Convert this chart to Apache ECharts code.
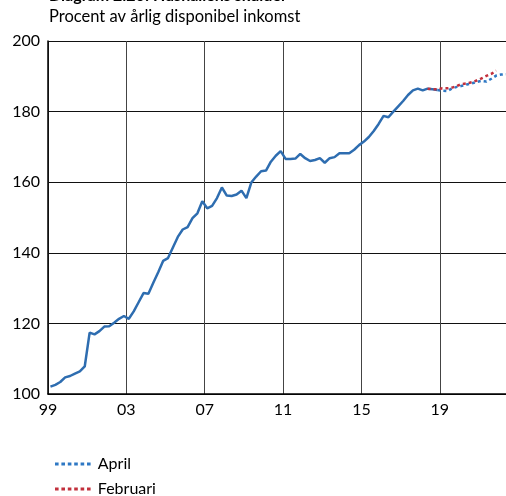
<!DOCTYPE html>
<html>
<head>
<meta charset="utf-8">
<script src="https://cdn.jsdelivr.net/npm/echarts@6/dist/echarts.min.js"></script>
<style>
  html, body { margin: 0; padding: 0; background: #fff; }
  #chart { width: 506px; height: 496px; }
</style>
</head>
<body>
<div id="chart"></div>
<script>
// kvartal från 1999 K1, index 0 = 1999 K1
var startYear = 1999;

// hushållens skulder, utfall (1999 K1 - 2018 K4)
var utfall = [
  102.1, 102.6, 103.4, 104.7, 105.1, 105.8, 106.4, 107.8,
  117.4, 116.9, 117.8, 119.1, 119.2, 120.2, 121.3, 122.1,
  121.3, 123.4, 126.0, 128.6, 128.4, 131.5, 134.5, 137.7,
  138.5, 141.5, 144.5, 146.6, 147.3, 149.8, 151.2, 154.6,
  152.6, 153.3, 155.5, 158.5, 156.2, 156.1, 156.5, 157.6,
  155.5, 159.9, 161.6, 163.1, 163.3, 165.8, 167.5, 168.8,
  166.6, 166.6, 166.7, 168.0, 166.8, 166.0, 166.3, 166.8,
  165.5, 166.8, 167.1, 168.2, 168.2, 168.2, 169.2, 170.5,
  171.5, 172.8, 174.5, 176.5, 178.8, 178.4, 180.0, 181.5,
  183.0, 184.7, 186.0, 186.5, 186.0, 186.5, 186.3, 186.1
];

// prognos april, från kvartal 79
var aprilStart = 79;
var april = [
  186.1, 185.9, 185.8, 186.6, 187.0, 187.3, 187.7, 188.0,
  188.4, 188.7, 188.5, 189.3, 190.2, 190.5, 190.6
];

// prognos februari, från kvartal 77
var februariStart = 77;
var februari = [
  186.5, 186.3, 186.3, 186.6, 186.6, 186.8, 187.3, 187.8,
  188.0, 188.3, 188.8, 189.4, 190.1, 190.7, 191.6
];

var yTicks = [100, 120, 140, 160, 180, 200];

function toPoints(values, offset) {
  var out = [];
  for (var k = 0; k < values.length; k++) {
    out.push([offset + k + 0.5, values[k]]);
  }
  return out;
}

var font = 'Lato, "Open Sans", sans-serif';

// streckad symbol för legenden (6 streck)
var dashIcon = 'path://';
for (var d = 0; d < 6; d++) {
  dashIcon += 'M' + (d * 6.4) + ',0h3.6v3h-3.6z';
}

// en legend per rad, så att de hamnar under varandra
function legendRow(name, top) {
  return {
    left: 50, top: top,
    itemWidth: 36, itemHeight: 3, itemGap: 10,
    icon: dashIcon,
    textStyle: { fontFamily: font, fontSize: 16, color: '#000', padding: [0, 0, 0, 2] },
    data: [name]
  };
}

var chart = echarts.init(document.getElementById('chart'));
var option = {
  animation: false,
  backgroundColor: '#fff',
  graphic: [
    {
      type: 'text', left: 49, top: -12,
      style: { text: 'Diagram 2:20: Hushållens skulder', fontFamily: font, fontSize: 16, fontWeight: 'bold', fill: '#000' }
    },
    {
      type: 'text', left: 49, top: 8,
      style: { text: 'Procent av årlig disponibel inkomst', fontFamily: font, fontSize: 16.5, fill: '#000' }
    }
  ],
  grid: { left: 48, right: 0, top: 41, bottom: 102 },
  legend: [legendRow('April', 451), legendRow('Februari', 476)],
  xAxis: {
    type: 'value',
    min: 0, max: 93.5, interval: 16,
    axisLine: { show: true, lineStyle: { color: '#000', width: 1.5 } },
    axisTick: { show: false },
    axisLabel: {
      showMaxLabel: false,
      margin: 8,
      fontFamily: font, fontSize: 16, color: '#000',
      formatter: function (v) {
        var y = (startYear + v / 4) % 100;
        return (y < 10 ? '0' : '') + y;
      }
    },
    splitLine: { show: true, lineStyle: { color: '#444', width: 1 } }
  },
  yAxis: {
    type: 'value',
    min: yTicks[0], max: yTicks[yTicks.length - 1], interval: 20,
    axisLine: { show: true, lineStyle: { color: '#000', width: 1.5 } },
    axisTick: { show: false },
    axisLabel: { margin: 8, fontFamily: font, fontSize: 16, color: '#000' },
    splitLine: { show: true, lineStyle: { color: '#111', width: 1 } }
  },
  series: [
    {
      name: 'Utfall',
      type: 'line',
      showSymbol: false,
      symbol: 'none',
      lineStyle: { color: '#2e6db0', width: 2.5 },
      data: toPoints(utfall, 0),
      z: 3
    },
    {
      name: 'April',
      type: 'line',
      showSymbol: false,
      symbol: 'none',
      itemStyle: { color: '#2e78c4' },
      lineStyle: { color: '#2e78c4', width: 2.5, type: [3, 3] },
      data: toPoints(april, aprilStart),
      z: 4
    },
    {
      name: 'Februari',
      type: 'line',
      showSymbol: false,
      symbol: 'none',
      itemStyle: { color: '#c2303c' },
      lineStyle: { color: '#c2303c', width: 2.5, type: [3, 3] },
      data: toPoints(februari, februariStart),
      z: 5
    }
  ]
};
chart.setOption(option);
</script>
</body>
</html>
